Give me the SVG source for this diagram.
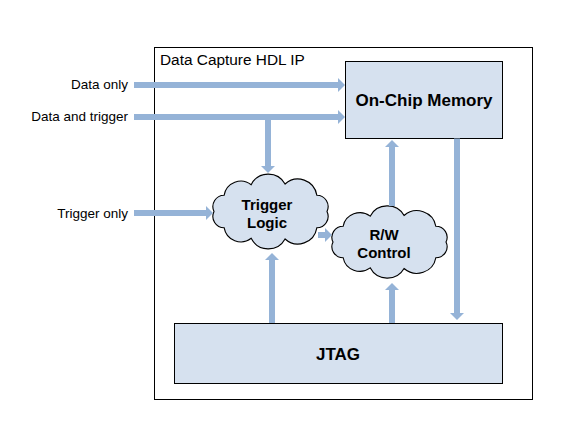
<svg xmlns="http://www.w3.org/2000/svg" width="567" height="432" viewBox="0 0 567 432">
<style>
.lbl{font-family:"Liberation Sans",Arial,sans-serif;font-size:13.5px;fill:#000}
.title{font-family:"Liberation Sans",Arial,sans-serif;font-size:15.4px;fill:#000}
.bold{font-family:"Liberation Sans",Arial,sans-serif;font-size:17px;font-weight:bold;fill:#000;text-anchor:middle}
.cl{font-family:"Liberation Sans",Arial,sans-serif;font-size:15px;font-weight:bold;fill:#000;text-anchor:middle}
.box{fill:#D6E1EF;stroke:#000;stroke-width:1}
.arr{stroke:#95B3D7;stroke-width:6;fill:none;marker-end:url(#ah)}
</style>
<defs>
<marker id="ah" markerUnits="userSpaceOnUse" markerWidth="8" markerHeight="14" refX="0" refY="7" orient="auto">
<path d="M0,0 L7,7 L0,14 Z" fill="#95B3D7"/>
</marker>
<path id="cloud" d="M50,0 A10,10 0 0 1 41,14.3 A17,17 0 0 1 12.9,24.1 A17,17 0 0 1 -17.1,23.5 A15,15 0 0 1 -41,14.3 A10,10 0 0 1 -50,0 A10,10 0 0 1 -41,-14.3 A15,15 0 0 1 -17.1,-23.5 A17,17 0 0 1 12.9,-24.1 A17,17 0 0 1 41,-14.3 A10,10 0 0 1 50,0 Z"/>
</defs>
<rect width="567" height="432" fill="#fff"/>
<g id="ip">
<rect x="154.5" y="47.5" width="378" height="352" fill="#fff" stroke="#000" stroke-width="1"/>
<text class="title" x="160" y="65">Data Capture HDL IP</text>
</g>
<g id="inputs">
<text class="lbl" x="128" y="89" text-anchor="end">Data only</text>
<text class="lbl" x="128" y="121" text-anchor="end">Data and trigger</text>
<text class="lbl" x="128" y="218" text-anchor="end">Trigger only</text>
</g>
<g id="memory">
<rect class="box" x="345.5" y="61.5" width="157" height="77"/>
<text class="bold" x="424" y="106">On-Chip Memory</text>
</g>
<g id="trigger-logic">
<use href="#cloud" class="box" transform="translate(270.5,211.5) scale(1.13,1.14)"/>
<text class="cl" x="267" y="210">Trigger</text>
<text class="cl" x="267" y="228">Logic</text>
</g>
<g id="rw-control">
<use href="#cloud" class="box" transform="translate(389.5,242) scale(1.13,1.1)"/>
<text class="cl" x="384" y="240">R/W</text>
<text class="cl" x="384" y="258">Control</text>
</g>
<g id="jtag">
<rect class="box" x="174.5" y="323.5" width="328" height="60"/>
<text class="bold" x="338" y="360">JTAG</text>
</g>
<g id="connectors">
<line class="arr" x1="134" y1="85" x2="338" y2="85"/>
<line class="arr" x1="134" y1="117" x2="338" y2="117"/>
<line class="arr" x1="268" y1="114" x2="268" y2="166"/>
<line class="arr" x1="134" y1="213" x2="206" y2="213"/>
<line class="arr" x1="318" y1="235" x2="325" y2="235"/>
<line class="arr" x1="392" y1="206" x2="392" y2="147"/>
<line class="arr" x1="457" y1="138.5" x2="457" y2="313"/>
<line class="arr" x1="272" y1="323" x2="272" y2="260"/>
<line class="arr" x1="392" y1="323" x2="392" y2="290"/>
</g>
</svg>
